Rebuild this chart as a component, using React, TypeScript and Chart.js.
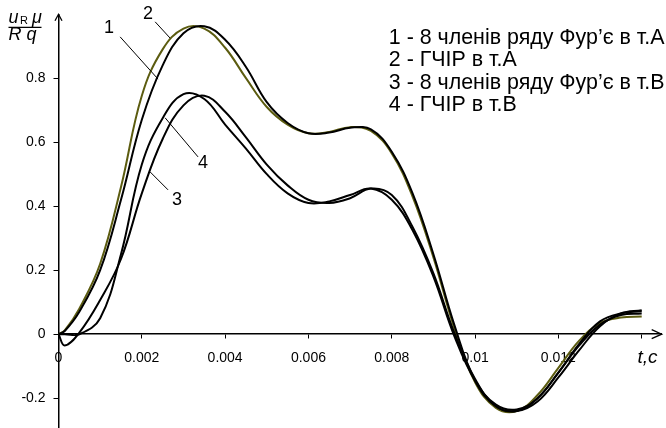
import React, { useEffect, useRef } from 'react';
import { Chart, registerables } from 'chart.js';

Chart.register(...registerables);

// time, s
const timeS = [0, 0.00015, 0.0005, 0.001, 0.0015, 0.002, 0.0025, 0.003, 0.0035, 0.004, 0.0045, 0.005, 0.0055, 0.006, 0.0065, 0.007, 0.0075, 0.008, 0.0085, 0.009, 0.0095, 0.01, 0.0105, 0.011, 0.0115, 0.012, 0.0125, 0.013, 0.0135, 0.014];
// 1 - 8 членів ряду Фур'є в т.А
const fourierA = [0, 0.01, 0.07, 0.2, 0.42, 0.67, 0.84, 0.94, 0.962, 0.92, 0.835, 0.725, 0.66, 0.628, 0.63, 0.645, 0.64, 0.57, 0.44, 0.25, 0.03, -0.145, -0.225, -0.24, -0.2, -0.12, -0.03, 0.04, 0.065, 0.072];
// 2 - ГЧІР в т.А
const ghirA = [0, 0.012, 0.08, 0.22, 0.46, 0.745, 0.89, 0.955, 0.955, 0.895, 0.8, 0.71, 0.655, 0.628, 0.632, 0.647, 0.635, 0.565, 0.43, 0.24, 0.02, -0.15, -0.23, -0.24, -0.19, -0.105, -0.02, 0.035, 0.052, 0.055];
// 3 - 8 членів ряду Фур'є в т.В
const fourierB = [0, -0.035, 0.005, 0.107, 0.235, 0.44, 0.61, 0.715, 0.745, 0.695, 0.615, 0.53, 0.465, 0.42, 0.41, 0.425, 0.455, 0.435, 0.335, 0.19, 0.005, -0.14, -0.225, -0.24, -0.21, -0.135, -0.05, 0.025, 0.065, 0.075];
// 4 - ГЧІР в т.В
const ghirB = [0, 0, 0, 0.05, 0.25, 0.53, 0.675, 0.75, 0.735, 0.655, 0.58, 0.5, 0.44, 0.41, 0.415, 0.435, 0.455, 0.42, 0.325, 0.18, -0.005, -0.145, -0.22, -0.235, -0.2, -0.12, -0.035, 0.03, 0.06, 0.065];

const legendLines = [
  '1 - 8 членів ряду Фур’є в т.А',
  '2 - ГЧІР в т.А',
  '3 - 8 членів ряду Фур’є в т.В',
  '4 - ГЧІР в т.В',
];
const curveNames = ['1', '2', '3', '4'];

const FONT = '"Liberation Sans", Arial, sans-serif';

const fmt = (v: number) => {
  const r = Number(v.toFixed(4));
  return Object.is(r, -0) ? '0' : String(r);
};

const toPoints = (vals: number[]) => timeS.map((t, i) => ({ x: t, y: vals[i] }));

// annotation placement (data coordinates)
const tagLayout = [
  { text: curveNames[0], at: [0.00121, 0.957], from: [0.00148, 0.929], to: [0.00239, 0.797] },
  { text: curveNames[1], at: [0.00215, 1.0], from: [0.00232, 0.976], to: [0.00268, 0.925] },
  { text: curveNames[2], at: [0.002845, 0.42], from: [0.00263, 0.451], to: [0.0022, 0.507] },
  { text: curveNames[3], at: [0.00347, 0.535], from: [0.00335, 0.554], to: [0.00256, 0.676] },
];

const overlay = {
  id: 'overlay',
  afterDraw(chart: any) {
    const { ctx } = chart;
    const xs = chart.scales.x;
    const ys = chart.scales.y;
    const px = (t: number) => xs.getPixelForValue(t);
    const py = (v: number) => ys.getPixelForValue(v);
    const x0 = px(0);
    const y0 = py(0);
    ctx.save();
    ctx.strokeStyle = '#000';
    ctx.fillStyle = '#000';
    // arrows
    ctx.lineWidth = 1.3;
    ctx.beginPath();
    ctx.moveTo(x0 - 3.5, ys.top + 6.5);
    ctx.lineTo(x0, ys.top);
    ctx.lineTo(x0 + 3.5, ys.top + 6.5);
    ctx.stroke();
    ctx.beginPath();
    ctx.moveTo(xs.right - 10, y0 - 4.5);
    ctx.lineTo(xs.right, y0);
    ctx.lineTo(xs.right - 10, y0 + 4.5);
    ctx.stroke();

    // curve tags
    ctx.lineWidth = 1;
    ctx.font = `18px ${FONT}`;
    ctx.textAlign = 'center';
    ctx.textBaseline = 'middle';
    tagLayout.forEach((tg) => {
      ctx.beginPath();
      ctx.moveTo(px(tg.from[0]), py(tg.from[1]));
      ctx.lineTo(px(tg.to[0]), py(tg.to[1]));
      ctx.stroke();
      ctx.fillText(tg.text, px(tg.at[0]), py(tg.at[1]));
    });

    // legend text
    ctx.font = `21.4px ${FONT}`;
    ctx.textAlign = 'left';
    legendLines.forEach((s, i) => {
      ctx.fillText(s, px(0.00793), ys.top + 23.5 + i * 22.5);
    });

    // y-axis title: u_R μ / R q
    const L = x0 - 50;
    const T = ys.top;
    ctx.textBaseline = 'alphabetic';
    ctx.font = `italic 18px ${FONT}`;
    ctx.fillText('u', L, T + 9);
    ctx.font = `11px ${FONT}`;
    ctx.fillText('R', L + 11.5, T + 10);
    ctx.font = `italic 18px ${FONT}`;
    ctx.fillText('μ', L + 23.5, T + 9);
    ctx.lineWidth = 1.2;
    ctx.beginPath();
    ctx.moveTo(L, T + 13);
    ctx.lineTo(L + 33, T + 13);
    ctx.stroke();
    ctx.fillText('R q', L, T + 26);

    // x-axis title
    ctx.font = `italic 19px ${FONT}`;
    ctx.fillText('t,c', px(0.01390), y0 + 29);
    ctx.restore();
  },
};

export default function App() {
  const ref = useRef<HTMLCanvasElement | null>(null);
  useEffect(() => {
    if (!ref.current) return;
    Chart.defaults.font.family = FONT;
    Chart.defaults.color = '#000';
    const line = (vals: number[], color: string) => ({
      data: toPoints(vals),
      borderColor: color,
      borderWidth: 2,
      pointRadius: 0,
      tension: 0.4,
      fill: false,
    });
    const chart = new Chart(ref.current, {
      type: 'line',
      data: {
        datasets: [
          line(fourierB, '#000'),
          line(ghirB, '#000'),
          line(fourierA, '#000'),
          line(ghirA, '#5c5c10'),
        ],
      },
      options: {
        animation: false,
        responsive: false,
        maintainAspectRatio: false,
        layout: { padding: { left: 0, right: 4.3, top: 14.3, bottom: 0 } },
        plugins: { legend: { display: false }, tooltip: { enabled: false } },
        scales: {
          x: {
            type: 'linear',
            position: { y: 0 } as any,
            min: 0,
            max: 0.01448,
            afterFit: (s: any) => {
              s.paddingLeft = 0;
              s.paddingRight = 0;
            },
            grid: { drawOnChartArea: false, drawTicks: true, tickLength: 4, tickColor: '#000', tickWidth: 1 },
            border: { display: true, color: '#000', width: 1.5 },
            ticks: {
              stepSize: 0.002,
              includeBounds: false,
              autoSkip: false,
              maxRotation: 0,
              padding: 12,
              color: '#000',
              font: { size: 14, family: FONT },
              callback: (v: any) => (Math.abs(v - 0.014) < 1e-6 ? '' : fmt(v)),
            },
          },
          y: {
            type: 'linear',
            position: 'left',
            min: -0.293,
            max: 0.9995,
            afterFit: (s: any) => {
              s.width = 58.5;
              s.paddingTop = 0;
              s.paddingBottom = 0;
            },
            grid: { drawOnChartArea: false, drawTicks: true, tickLength: 5, tickColor: '#000', tickWidth: 1 },
            border: { display: true, color: '#000', width: 1.5 },
            ticks: {
              stepSize: 0.2,
              includeBounds: false,
              padding: 8,
              color: '#000',
              font: { size: 14, family: FONT },
              callback: (v: any) => fmt(v),
            },
          },
        },
      },
      plugins: [overlay],
    } as any);
    return () => chart.destroy();
  }, []);
  return (
    <div style={{ position: 'fixed', left: 0, top: 0, width: 666, height: 428, background: '#fff' }}>
      <canvas ref={ref} width={666} height={428} style={{ width: 666, height: 428, display: 'block' }} />
    </div>
  );
}
